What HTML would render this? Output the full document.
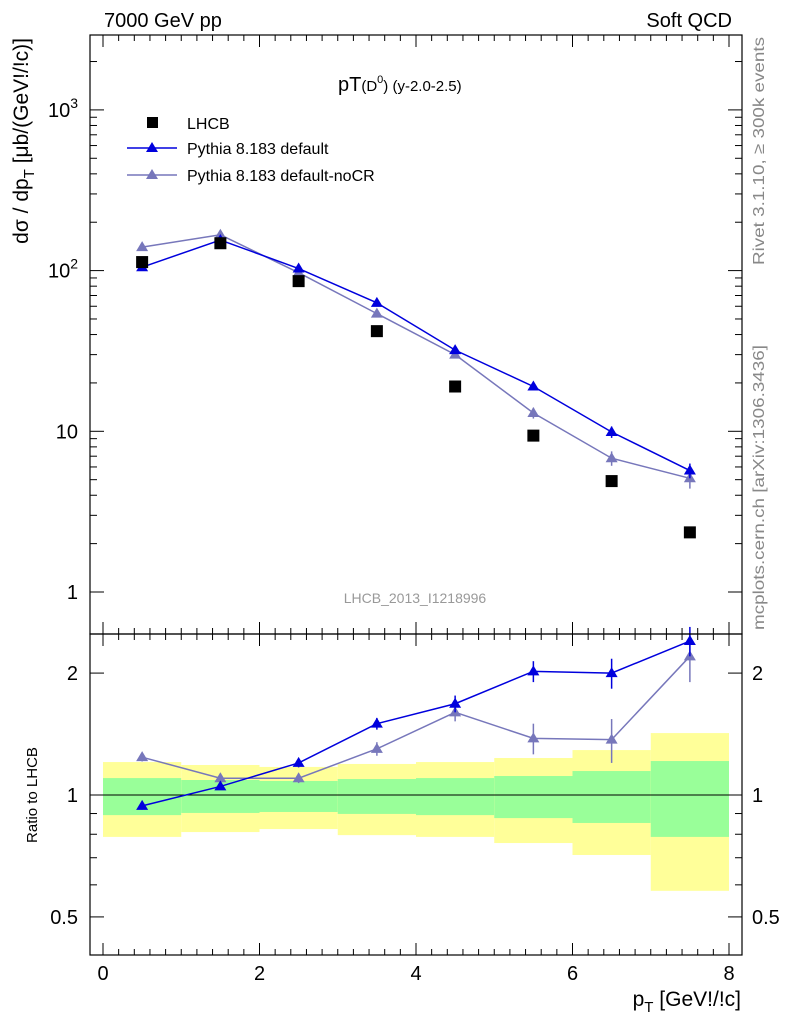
<!DOCTYPE html>
<html><head><meta charset="utf-8"><style>
body{margin:0;background:#fff;}
svg text{font-family:"Liberation Sans",sans-serif;}
</style></head><body>
<svg id="c" width="786" height="1024" xmlns="http://www.w3.org/2000/svg">
<rect width="786" height="1024" fill="#fff"/>
<g id="bands"></g>
<g id="marks"></g>
<g id="axes"></g>
<text x="104" y="27" font-size="20">7000 GeV pp</text>
<text x="732" y="27" font-size="20" text-anchor="end">Soft QCD</text>
<text x="338" y="91" font-size="20">pT<tspan font-size="15">(D</tspan><tspan font-size="11" dy="-8">0</tspan><tspan font-size="15" dy="8">) (y-2.0-2.5)</tspan></text>
<text x="415" y="603" font-size="14" fill="#999" text-anchor="middle">LHCB_2013_I1218996</text>
<text transform="translate(764,265) rotate(-90)" font-size="16" fill="#888" textLength="228" lengthAdjust="spacingAndGlyphs">Rivet 3.1.10, ≥ 300k events</text>
<text transform="translate(764,630) rotate(-90)" font-size="16" fill="#888" textLength="285" lengthAdjust="spacingAndGlyphs">mcplots.cern.ch [arXiv:1306.3436]</text>
<text transform="translate(28,38) rotate(-90)" font-size="21" text-anchor="end">dσ / dp<tspan font-size="15" dy="6">T</tspan><tspan dy="-6"> [μb/(GeV!/!c)]</tspan></text>
<text transform="translate(37,795) rotate(-90)" font-size="15" text-anchor="middle">Ratio to LHCB</text>
<text x="741" y="1006" font-size="21" text-anchor="end">p<tspan font-size="15" dy="6">T</tspan><tspan dy="-6"> [GeV!/!c]</tspan></text>
<g>
<rect x="147" y="117" width="11" height="11" fill="#000"/>
<text x="187" y="129" font-size="16">LHCB</text>
<line x1="127" y1="148" x2="177" y2="148" stroke="#0000dd" stroke-width="1.5"/>
<polygon points="152,142 158,152 146,152" fill="#0000dd"/>
<text x="187" y="154" font-size="16">Pythia 8.183 default</text>
<line x1="127" y1="175" x2="177" y2="175" stroke="#7777bb" stroke-width="1.5"/>
<polygon points="152,169 158,179 146,179" fill="#7777bb"/>
<text x="187" y="181" font-size="16">Pythia 8.183 default-noCR</text>
</g>
</svg>
<script>
const xCenters=[0.5,1.5,2.5,3.5,4.5,5.5,6.5,7.5];
const lhcb=[113,148,86,42,19,9.4,4.9,2.35];
const pyDef=[105,155,103,63,32,19,9.9,5.7];
const pyDefErr=[3,4,3,2,1.5,1,0.8,0.6];
const pyNoCR=[140,167,97,54,30,13,6.8,5.1];
const pyNoCRErr=[4,5,3,2,1.5,1,0.7,0.7];
const ratioDef=[0.94,1.05,1.2,1.5,1.68,2.02,2.0,2.4];
const ratioDefErr=[0.02,0.02,0.03,0.05,0.08,0.12,0.17,0.2];
const ratioNoCR=[1.24,1.1,1.1,1.3,1.6,1.38,1.37,2.2];
const ratioNoCRErr=[0.03,0.03,0.03,0.05,0.08,0.12,0.17,0.3];
const yellowHi=[1.206,1.186,1.173,1.193,1.206,1.234,1.291,1.422];
const yellowLo=[0.788,0.81,0.824,0.796,0.788,0.761,0.711,0.58];
const greenHi=[1.101,1.089,1.083,1.095,1.101,1.114,1.146,1.213];
const greenLo=[0.892,0.903,0.908,0.898,0.892,0.877,0.853,0.788];
const xTicks=[0,2,4,6,8];

const NS="http://www.w3.org/2000/svg";
const X=v=>103+v*78.25;
const Y=v=>592-160.7*Math.log10(v);
const R=v=>795-405*Math.log10(v);
function mk(p,t,a){const e=document.createElementNS(NS,t);for(const k in a)e.setAttribute(k,a[k]);p.appendChild(e);return e;}
const bands=document.getElementById('bands'),marks=document.getElementById('marks'),axes=document.getElementById('axes');
xCenters.forEach((c,i)=>{
 let y=mk(bands,'rect',{x:X(c-0.5),y:R(yellowHi[i]),width:X(c+0.5)-X(c-0.5),height:R(yellowLo[i])-R(yellowHi[i]),fill:'#ffff99'});
 
 
 let g=mk(bands,'rect',{x:X(c-0.5),y:R(greenHi[i]),width:X(c+0.5)-X(c-0.5),height:R(greenLo[i])-R(greenHi[i]),fill:'#99ff99'});
 
 
});
mk(bands,'line',{x1:90,x2:742,y1:R(1),y2:R(1),stroke:'#000','stroke-width':1});
function series(vals,errs,f,col,name){
 const pl=mk(marks,'polyline',{points:xCenters.map((c,i)=>X(c)+','+f(vals[i])).join(' '),fill:'none',stroke:col,'stroke-width':1.5});
 
 
 xCenters.forEach((c,i)=>{
  const x=X(c),y=f(vals[i]);
  mk(marks,'line',{x1:x,x2:x,y1:f(vals[i]+errs[i]),y2:f(Math.max(vals[i]-errs[i],0.01)),stroke:col,'stroke-width':1.5});
  const p=mk(marks,'polygon',{points:`${x},${y-6} ${x+6},${y+4} ${x-6},${y+4}`,fill:col});
  
  
 });
}
series(pyNoCR,pyNoCRErr,Y,'#7777bb','nocr');
series(pyDef,pyDefErr,Y,'#0000dd','default');
series(ratioNoCR,ratioNoCRErr,R,'#7777bb','nocr-ratio');
series(ratioDef,ratioDefErr,R,'#0000dd','default-ratio');
xCenters.forEach((c,i)=>{
 const r=mk(marks,'rect',{x:X(c)-6,y:Y(lhcb[i])-6,width:12,height:12,fill:'#000'});
 
 
});
mk(axes,'rect',{x:90,y:35,width:652,height:599,fill:'none',stroke:'#000','stroke-width':1.2});
mk(axes,'rect',{x:90,y:634,width:652,height:321,fill:'none',stroke:'#000','stroke-width':1.2});
for(let v=0;v<=8.01;v+=0.2){const x=X(v),maj=Math.abs(v-Math.round(v/2)*2)<1e-6,len=maj?12:6;
 mk(axes,'line',{x1:x,x2:x,y1:955,y2:955-len,stroke:'#000'});
 mk(axes,'line',{x1:x,x2:x,y1:634,y2:634-len,stroke:'#000'});
 mk(axes,'line',{x1:x,x2:x,y1:35,y2:35+len,stroke:'#000'});
 mk(axes,'line',{x1:x,x2:x,y1:634,y2:634+len,stroke:'#000'});}
xTicks.forEach(v=>{const t=mk(axes,'text',{x:X(v),y:980,'font-size':20,'text-anchor':'middle'});t.textContent=v;
 
 });
for(let d=0;d<4;d++)for(let m=1;m<10;m++){const v=m*Math.pow(10,d),y=Y(v);if(y<35||y>634)continue;const len=m==1?14:7;
 mk(axes,'line',{x1:90,x2:90+len,y1:y,y2:y,stroke:'#000'});mk(axes,'line',{x1:742,x2:742-len,y1:y,y2:y,stroke:'#000'});}
[['1',1],['10',10]].forEach(([s,v])=>{const t=mk(axes,'text',{x:78,y:Y(v)+7,'font-size':20,'text-anchor':'end'});t.textContent=s;
 
 });
[[2,100],[3,1000]].forEach(([e,v])=>{const t=mk(axes,'text',{x:78,y:Y(v)+7,'font-size':20,'text-anchor':'end'});t.innerHTML='10<tspan font-size="14" dy="-9">'+e+'</tspan>';
 
 });
[0.5,0.6,0.7,0.8,0.9,1,2].forEach(v=>{const y=R(v),len=(v==0.5||v==1||v==2)?14:7;
 mk(axes,'line',{x1:90,x2:90+len,y1:y,y2:y,stroke:'#000'});mk(axes,'line',{x1:742,x2:742-len,y1:y,y2:y,stroke:'#000'});});
[['0.5',0.5],['1',1],['2',2]].forEach(([s,v])=>{
 const t=mk(axes,'text',{x:78,y:R(v)+7,'font-size':20,'text-anchor':'end'});t.textContent=s;
 
 
 const t2=mk(axes,'text',{x:752,y:R(v)+7,'font-size':20});t2.textContent=s;
 
 });
</script>
</body></html>
